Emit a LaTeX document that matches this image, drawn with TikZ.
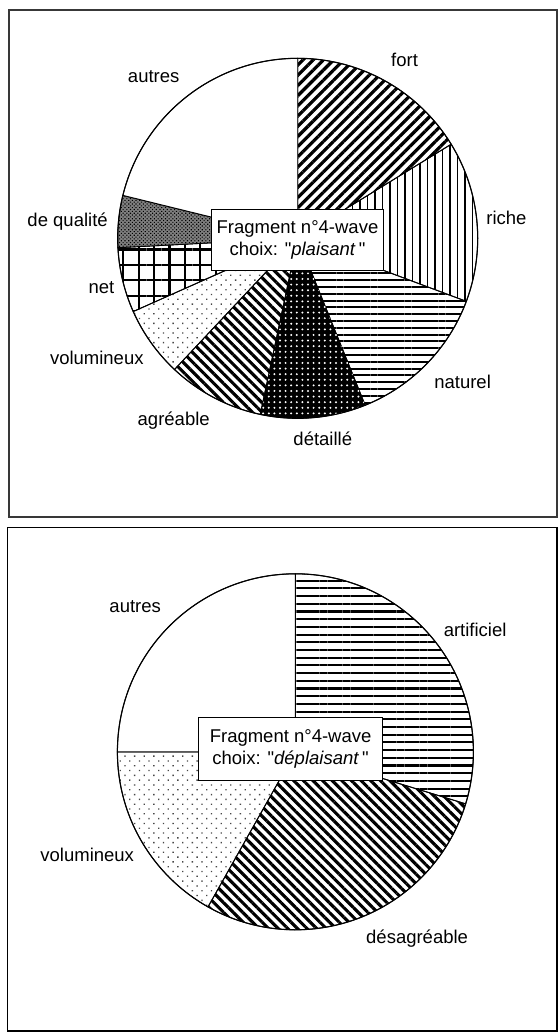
\documentclass[tikz,border=0pt]{standalone}
\usepackage{fontspec}
\setmainfont{Liberation Sans}[Ligatures=TeXOff]
\usetikzlibrary{patterns.meta}
\begin{document}
\begin{tikzpicture}[x=1pt,y=-1pt,
  lbl/.style={anchor=base,font=\fontsize{18.5}{21.5}\selectfont,inner sep=0pt},
  slice/.style={draw=black,line width=0.9pt},
  rim/.style={draw=black,line width=1.1pt},
  infobox/.style={draw=black,fill=white,line width=1pt,align=center,inner sep=0pt,
    font=\fontsize{18.5}{21.7}\selectfont},
  topframe/.style={draw=black!78,line width=2pt},
  botframe/.style={draw=black,line width=1.3pt},
  plainfill/.style={fill=white},
  diagup/.style={fill=white,pattern={Lines[angle=45,distance=7.2pt,line width=3.2pt]}},
  diagdown/.style={fill=white,pattern={Lines[angle=-45,distance=6.8pt,line width=3.1pt]}},
  vlines/.style={fill=white,pattern={Lines[angle=90,distance=7.5pt,line width=1.9pt]}},
  hlines/.style={fill=white,pattern={Lines[angle=0,distance=6.8pt,line width=1.9pt]}},
  hlinesb/.style={fill=white,pattern={Lines[angle=0,distance=7.7pt,line width=2.1pt]}},
  gridpat/.style={fill=white,pattern={Lines[angle=0,distance=15.4pt,line width=2.2pt]},
    postaction={pattern={Lines[angle=90,distance=15.4pt,line width=2.2pt]}}},
  sparsedots/.style={fill=white,pattern={Dots[angle=45,distance=6.8pt,radius=0.95pt]},pattern color=black!72},
  darkdots/.style={fill=black,postaction={pattern={Dots[distance=5.6pt,radius=1.1pt]},pattern color=white}},
  checker/.style={fill=black!50,postaction={pattern={Dots[angle=45,distance=2.6pt,radius=0.8pt]},pattern color=black}}
]
\useasboundingbox (0,0) rectangle (558,1035);

% ---------- top panel ----------
\draw[topframe] (9,10) rectangle (557,516.5);
\coordinate (c1) at (297.7,238.3);

\path[slice,diagup]     (c1) -- ++(-90:180)   arc[start angle=-90,  end angle=-31.5, radius=180] -- cycle;
\path[slice,vlines]     (c1) -- ++(-31.5:180) arc[start angle=-31.5,end angle=20.5,  radius=180] -- cycle;
\path[slice,hlines]     (c1) -- ++(20.5:180)  arc[start angle=20.5, end angle=68,    radius=180] -- cycle;
\path[slice,darkdots]   (c1) -- ++(68:180)    arc[start angle=68,   end angle=102,   radius=180] -- cycle;
\path[slice,diagdown]   (c1) -- ++(102:180)   arc[start angle=102,  end angle=133.2, radius=180] -- cycle;
\path[slice,sparsedots] (c1) -- ++(133.2:180) arc[start angle=133.2,end angle=156,   radius=180] -- cycle;
\path[slice,gridpat]    (c1) -- ++(156:180)   arc[start angle=156,  end angle=177,   radius=180] -- cycle;
\path[slice,checker]    (c1) -- ++(177:180)   arc[start angle=177,  end angle=193.8, radius=180] -- cycle;
\path[slice,plainfill]  (c1) -- ++(193.8:180) arc[start angle=193.8,end angle=270,   radius=180] -- cycle;
\draw[rim] (c1) circle[radius=180];

\node[infobox,minimum width=171.6pt,minimum height=61.4pt] (box1) at (297.5,240)
  {Fragment n°4-wave\\choix: "\textit{plaisant}\,"};

\node[lbl] (fort)     at (404.6,66.5)  {fort};
\node[lbl] (riche)    at (506.4,224)   {riche};
\node[lbl] (naturel)  at (462.6,388.7) {naturel};
\node[lbl] (detaille) at (322.8,445.4) {détaillé};
\node[lbl] (agreable) at (173.7,425.5) {agréable};
\node[lbl] (volum1)   at (96.8,364.8)  {volumineux};
\node[lbl] (net)      at (101.4,293.5) {net};
\node[lbl] (qualite)  at (67.6,226.5)  {de qualité};
\node[lbl] (autres1)  at (153.7,82.3)  {autres};

% ---------- bottom panel ----------
\draw[botframe] (7.5,527.5) rectangle (557,1031);
\coordinate (c2) at (295.4,751.8);

\path[slice,hlinesb]    (c2) -- ++(-90:178)   arc[start angle=-90,  end angle=17,    radius=178] -- cycle;
\path[slice,diagdown]   (c2) -- ++(17:178)    arc[start angle=17,   end angle=119.4, radius=178] -- cycle;
\path[slice,sparsedots] (c2) -- ++(119.4:178) arc[start angle=119.4,end angle=180,   radius=178] -- cycle;
\path[slice,plainfill]  (c2) -- ++(180:178)   arc[start angle=180,  end angle=270,   radius=178] -- cycle;
\draw[rim] (c2) circle[radius=178];

\node[infobox,minimum width=184.5pt,minimum height=63.4pt] (box2) at (290.6,748.7)
  {Fragment n°4-wave\\choix: "\textit{déplaisant}\,"};

\node[lbl] (autres2)    at (135.2,612.8) {autres};
\node[lbl] (artificiel) at (475.1,636.7) {artificiel};
\node[lbl] (desagr)     at (417.1,943.5) {désagréable};
\node[lbl] (volum2)     at (87.2,861.6)  {volumineux};
\end{tikzpicture}
\end{document}
